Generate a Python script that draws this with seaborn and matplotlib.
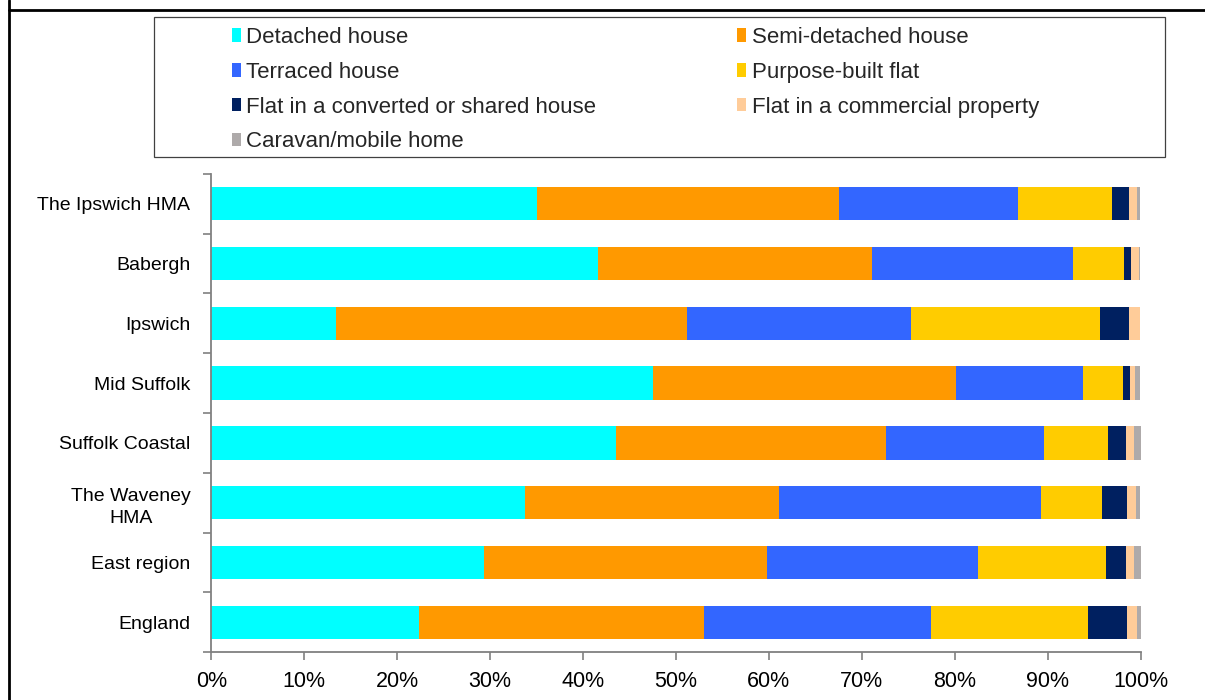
import matplotlib
matplotlib.use("Agg")
import matplotlib.pyplot as plt
from matplotlib.patches import Patch, Rectangle
from matplotlib.lines import Line2D
from matplotlib.ticker import FixedLocator, FuncFormatter
import seaborn as sns
import pandas as pd
import numpy as np

# ---- data (percent of dwellings) ----
areas = ["The Ipswich HMA", "Babergh", "Ipswich", "Mid Suffolk", "Suffolk Coastal",
         "The Waveney\nHMA", "East region", "England"]
series_names = ["Detached house", "Semi-detached house", "Terraced house",
                "Purpose-built flat", "Flat in a converted or shared house",
                "Flat in a commercial property", "Caravan/mobile home"]
detached = [35.0, 41.6, 13.4, 47.5, 43.6, 33.8, 29.4, 22.3]
semi = [32.5, 29.5, 37.8, 32.6, 29.0, 27.3, 30.4, 30.7]
terraced = [19.3, 21.6, 24.1, 13.7, 17.0, 28.2, 22.7, 24.5]
purpose_flat = [10.1, 5.5, 20.3, 4.3, 6.9, 6.6, 13.8, 16.8]
converted_flat = [1.85, 0.8, 3.2, 0.8, 1.9, 2.6, 2.1, 4.3]
commercial_flat = [0.85, 0.8, 1.1, 0.5, 0.9, 1.0, 0.9, 1.0]
caravan = [0.4, 0.2, 0.1, 0.6, 0.7, 0.5, 0.7, 0.4]
xtick_values = [0, 10, 20, 30, 40, 50, 60, 70, 80, 90, 100]

colors = ["#00FFFF", "#FF9900", "#3366FF", "#FFCC00", "#002060", "#FFCC99", "#AEAAAA"]

series = [detached, semi, terraced, purpose_flat, converted_flat, commercial_flat, caravan]

sns.set_style("white")
plt.rcParams["font.family"] = ["Liberation Sans", "DejaVu Sans"]

W, H = 1205, 700
fig = plt.figure(figsize=(W / 100, H / 100), dpi=100)
ax = fig.add_axes([211.3 / W, 1 - 652.3 / H, (1140.5 - 211.3) / W, (652.3 - 173.7) / H])

df = pd.DataFrame({name: vals for name, vals in zip(series_names, series)})
df["area"] = areas
cum = df[series_names].cumsum(axis=1)

# stacked bars: draw cumulative totals from widest to narrowest
for name, col in reversed(list(zip(series_names, colors))):
    sns.barplot(x=cum[name], y=df["area"], orient="h", color=col, width=0.555,
                saturation=1, errorbar=None, ax=ax, edgecolor="none", linewidth=0)

ax.set_xlim(0, 100)
ax.set_ylim(len(areas) - 0.5, -0.5)
ax.set_xlabel("")
ax.set_ylabel("")

ax.xaxis.set_major_locator(FixedLocator(xtick_values))
ax.xaxis.set_major_formatter(FuncFormatter(lambda v, p: f"{int(round(v))}%"))
ax.tick_params(axis="x", which="major", direction="out", length=5.5, width=1.2,
               color="#808080", labelsize=15.5, pad=8, labelcolor="black", bottom=True)

ax.set_yticks(range(len(areas)))
ax.set_yticklabels(areas, multialignment="center", linespacing=1.4)
ax.yaxis.set_minor_locator(FixedLocator(np.arange(-0.5, len(areas), 1.0)))
ax.tick_params(axis="y", which="major", length=0, labelsize=14, pad=15, labelcolor="black")
ax.tick_params(axis="y", which="minor", direction="out", length=5.5, width=1.2,
               color="#808080", left=True)

for s in ["top", "right"]:
    ax.spines[s].set_visible(False)
for s in ["left", "bottom"]:
    ax.spines[s].set_color("#808080")
    ax.spines[s].set_linewidth(1.3)

# legend (row-wise ordering in two columns)
order = [0, 2, 4, 6, 1, 3, 5]
handles = [Patch(facecolor=colors[i], edgecolor="none", label=series_names[i]) for i in order]
fig.legend(handles=handles, loc="upper left", bbox_to_anchor=(232 / W, 1 - 27 / H),
           ncol=2, frameon=False, fontsize=16, borderpad=0, borderaxespad=0,
           handlelength=0.4, handleheight=0.55, handletextpad=0.25,
           labelspacing=0.62, columnspacing=6.33)

# legend box
fig.add_artist(Rectangle((154 / W, 1 - 156.5 / H), (1165 - 154) / W, (156.5 - 17) / H,
                         transform=fig.transFigure, fill=False, edgecolor="#404040",
                         linewidth=0.9))

# page frame lines
fig.add_artist(Line2D([8.5 / W, 1], [1 - 10 / H, 1 - 10 / H], transform=fig.transFigure,
                      color="black", linewidth=2.0))
fig.add_artist(Line2D([9 / W, 9 / W], [0, 1], transform=fig.transFigure,
                      color="black", linewidth=2.0))

fig.savefig("out.png", dpi=100)
